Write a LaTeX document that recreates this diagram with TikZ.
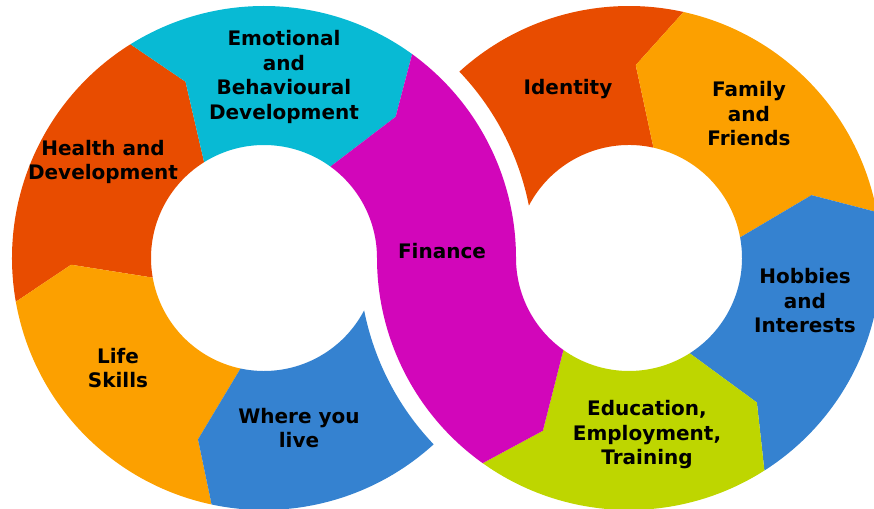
\documentclass[tikz,border=0pt]{standalone}
\usepackage{fontspec}
\setmainfont{DejaVu Sans}

\definecolor{redseg}{RGB}{232,76,0}
\definecolor{cyanseg}{RGB}{8,186,212}
\definecolor{magseg}{RGB}{210,6,186}
\definecolor{orangeseg}{RGB}{252,160,0}
\definecolor{blueseg}{RGB}{53,130,208}
\definecolor{limeseg}{RGB}{190,214,0}

\tikzset{
  piece/.style={fill=#1, draw=none},
  lbl/.style={align=center, font=\fontsize{20}{24.5}\selectfont\bfseries, text=black}
}

\begin{document}
\begin{tikzpicture}[x=1pt, y=1pt]
    \useasboundingbox (0,0) rectangle (874,508);
    \coordinate (L) at (264,250);
    \coordinate (R) at (629,250);

    % left loop
    \begin{scope}[shift={(L)}]
      \fill[piece=redseg] (190:252) arc[start angle=190, end angle=122, radius=252] -- (114:193) -- (122:113) arc[start angle=122, end angle=190, radius=113] -- (182:193) -- cycle;
      \fill[piece=cyanseg] (122:252) arc[start angle=122, end angle=54, radius=252] -- (47:193) -- (54:113) arc[start angle=54, end angle=122, radius=113] -- (114:193) -- cycle;
      \fill[piece=orangeseg] (258:252) arc[start angle=258, end angle=190, radius=252] -- (182:193) -- (190:113) arc[start angle=190, end angle=258, radius=113] -- (250:193) -- cycle;
      \fill[piece=blueseg] (312.31:252) arc[start angle=312.31, end angle=258, radius=252] -- (250:193) -- (258:113) arc[start angle=258, end angle=332.39, radius=113] arc[start angle=191.19, end angle=223.65, radius=270] -- cycle;
    \end{scope}

    % right loop
    \begin{scope}[shift={(R)}]
      \fill[piece=redseg] (77.5:252) arc[start angle=77.5, end angle=132.31, radius=252] arc[start angle=43.65, end angle=11.19, radius=270] arc[start angle=152.39, end angle=77.5, radius=113] -- (88:193) -- cycle;
      \fill[piece=orangeseg] (77.5:252) arc[start angle=77.5, end angle=10.5, radius=252] -- (19:193) -- (10.5:113) arc[start angle=10.5, end angle=77.5, radius=113] -- (88:193) -- cycle;
      \fill[piece=blueseg] (10.5:252) arc[start angle=10.5, end angle=-57.5, radius=252] -- (-48.5:193) -- (-57.5:113) arc[start angle=-57.5, end angle=10.5, radius=113] -- (19:193) -- cycle;
      \fill[piece=limeseg] (-57.5:252) arc[start angle=-57.5, end angle=-125.5, radius=252] -- (-116.5:193) -- (-125.5:113) arc[start angle=-125.5, end angle=-57.5, radius=113] -- (-48.5:193) -- cycle;
    \end{scope}

    % the crossing piece
    \fill[piece=magseg] ([shift={(54:252)}]L) arc[start angle=54, end angle=0, radius=252] arc[start angle=180, end angle=234.5, radius=113] -- ([shift={(243.5:193)}]R) -- ([shift={(234.5:252)}]R) arc[start angle=234.5, end angle=180, radius=252] arc[start angle=0, end angle=54, radius=113] -- ([shift={(47:193)}]L) -- cycle;

    % labels
    \node[lbl] (emotional) at (284,431) {Emotional\\and\\Behavioural\\Development};
    \node[lbl] (health) at (103,346) {Health and\\Development};
    \node[lbl] (life) at (118,140) {Life\\Skills};
    \node[lbl] (where) at (299,80) {Where you\\live};
    \node[lbl] (finance) at (442,257) {Finance};
    \node[lbl] (identity) at (568,419) {Identity};
    \node[lbl] (family) at (749,394) {Family\\and\\Friends};
    \node[lbl] (hobbies) at (805,207) {Hobbies\\and\\Interests};
    \node[lbl] (education) at (647,73) {Education,\\Employment,\\Training};
\end{tikzpicture}
\end{document}
